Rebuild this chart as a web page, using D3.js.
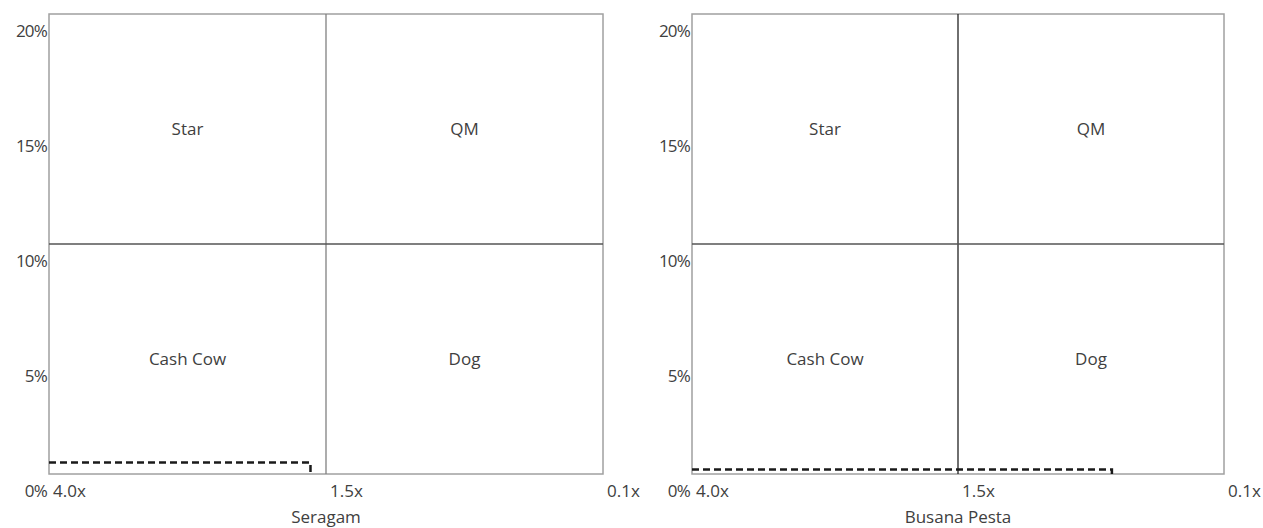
<!DOCTYPE html>
<html><head><meta charset="utf-8">
<script src="https://cdn.jsdelivr.net/npm/d3@7"></script>
<style>body{margin:0;background:#fff}svg{display:block}text{font-family:"Open Sans",Lato,sans-serif;fill:#404040}</style>
</head><body><svg id="c" width="1263" height="528"></svg>
<script>
const panelTitles = ["Seragam", "Busana Pesta"];
const growthRate = [0.5, 0.2];          // market growth (%)
const relShare = [1.64, 0.69];          // relative market share (x)
const xTickValues = [4.0, 1.5, 0.1];
const xTickLabels = ["4.0x", "1.5x", "0.1x"];
const yTickValues = [0, 5, 10, 15, 20];
const yTickLabels = ["0%", "5%", "10%", "15%", "20%"];
const quadrantNames = ["Star", "QM", "Cash Cow", "Dog"];

const svg = d3.select("#c");
const frames = [{x0: 49, x1: 603, top: 14, bottom: 474, mid: "#808080"},
                {x0: 692, x1: 1224, top: 14, bottom: 474, mid: "#222"}];

frames.forEach((f, i) => {
  const x = d3.scaleLinear().domain(xTickValues).range([f.x0, (f.x0 + f.x1) / 2, f.x1]);
  const y = d3.scaleLinear().domain([0, 20]).range([f.bottom, f.top]);
  const g = svg.append("g");

  g.append("rect").attr("x", f.x0).attr("y", f.top).attr("width", f.x1 - f.x0).attr("height", f.bottom - f.top)
    .attr("fill", "none").attr("stroke", "#a0a0a0").attr("stroke-width", 1.5);
  g.append("line").attr("x1", x(1.5)).attr("x2", x(1.5)).attr("y1", f.top).attr("y2", f.bottom)
    .attr("stroke", f.mid).attr("stroke-width", 1.3);
  g.append("line").attr("x1", f.x0).attr("x2", f.x1).attr("y1", y(10)).attr("y2", y(10))
    .attr("stroke", "#555").attr("stroke-width", 1.3);

  const qx = [(x(4.0) + x(1.5)) / 2, (x(1.5) + x(0.1)) / 2];
  const qy = [(y(20) + y(10)) / 2, (y(10) + y(0)) / 2];
  quadrantNames.forEach((q, k) => {
    g.append("text").attr("x", qx[k % 2]).attr("y", qy[Math.floor(k / 2)] + 6)
      .attr("text-anchor", "middle").attr("font-size", 17).text(q);
  });

  yTickValues.forEach((v, k) => {
    g.append("text").attr("x", f.x0 - 2).attr("y", y(v) + 23).attr("text-anchor", "end")
      .attr("font-size", 17).attr("letter-spacing", -0.8).text(yTickLabels[k]);
  });
  xTickValues.forEach((v, k) => {
    g.append("text").attr("x", x(v) + 4).attr("y", f.bottom + 23).attr("text-anchor", "start")
      .attr("font-size", 17).text(xTickLabels[k]);
  });
  g.append("text").attr("x", (f.x0 + f.x1) / 2).attr("y", 523).attr("text-anchor", "middle")
    .attr("font-size", 17).text(panelTitles[i]);

  const pts = [[x(4.0), y(growthRate[i])], [x(relShare[i]), y(growthRate[i])], [x(relShare[i]), y(0)]];
  g.append("path").attr("d", d3.line()(pts)).attr("fill", "none").attr("stroke", "#1a1a1a")
    .attr("stroke-width", 2.5).attr("stroke-dasharray", "7,4");
});
</script></body></html>
